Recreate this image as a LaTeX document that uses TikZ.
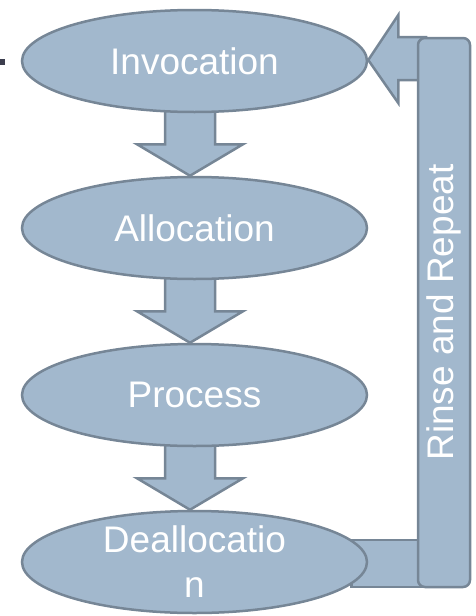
\documentclass[tikz,border=0pt]{standalone}
\usepackage{fontspec}
\setmainfont{Liberation Sans}
\usetikzlibrary{shapes.geometric,calc,backgrounds}
\definecolor{fillc}{RGB}{162,184,205}
\definecolor{edgec}{RGB}{118,134,150}
\definecolor{markc}{RGB}{60,62,78}
\begin{document}
\begin{tikzpicture}[x=1pt,y=-1pt,
  stage/.style={ellipse,draw=edgec,fill=fillc,line width=2.5pt,minimum width=345pt,minimum height=102pt,inner sep=0pt,text=white,font=\fontsize{37}{45}\selectfont,align=center},
  barbox/.style={rectangle,rounded corners=7pt,draw=edgec,fill=fillc,line width=2.5pt,minimum width=549pt,minimum height=52pt,inner sep=0pt,text=white,font=\fontsize{37}{45}\selectfont,rotate=90},
  blk/.style={draw=edgec,fill=fillc,line width=2.5pt,line join=miter}]
\useasboundingbox (0,0) rectangle (475,616);
\fill[markc] (0,59) rectangle (5,65);
\node[stage] (inv) at (194.5,61) {Invocation};
\node[stage] (alo) at (194.5,228) {Allocation};
\node[stage] (pro) at (194.5,395) {Process};
\node[stage] (dea) at (194.5,562) {Deallocatio\\n};
\node[barbox] (bar) at (444,312.5) {Rinse and Repeat};
\begin{scope}[on background layer]
  \foreach \a/\b in {inv/alo,alo/pro,pro/dea}{
    \draw[blk] ($(\a.south)+(-29.5,-10)$) -- ($(\a.south)+(-29.5,31)$) -- ($(\a.south)+(-57.5,31)$)
      -- ($(\b.north)+(-4.5,0)$) -- ($(\a.south)+(48.5,31)$) -- ($(\a.south)+(20.5,31)$)
      -- ($(\a.south)+(20.5,-10)$) -- cycle;
  }
  \draw[blk] ($(inv.east)+(0,-1)$) -- ($(inv.east)+(30,-46)$) -- ($(inv.east)+(30,-24)$)
    -- ($(bar.center)+(-18,-275.5)$) -- ($(bar.center)+(-18,-232.5)$)
    -- ($(inv.east)+(30,19)$) -- ($(inv.east)+(30,42)$) -- cycle;
  \draw[blk] ($(dea.east)+(-17,-22)$) rectangle ($(bar.center)+(-18,274.5)$);
\end{scope}
\end{tikzpicture}
\end{document}
